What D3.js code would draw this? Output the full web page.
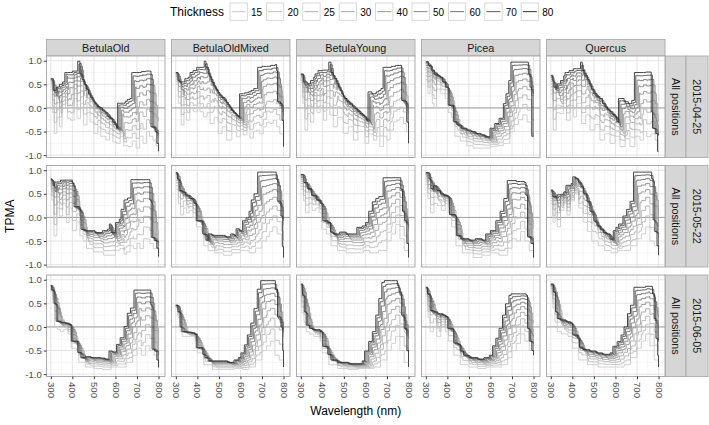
<!DOCTYPE html>
<html><head><meta charset="utf-8">
<script src="https://cdn.jsdelivr.net/npm/d3@7"></script>
<style>body{margin:0;background:#fff}svg{display:block;font-family:"Liberation Sans",Arial,Helvetica,sans-serif}</style>
</head><body><svg id="c" width="709" height="425"></svg>
<script>
const species = ["BetulaOld","BetulaOldMixed","BetulaYoung","Picea","Quercus"];
const dates = ["2015-04-25","2015-05-22","2015-06-05"];
const positionLabel = "All positions";
const thickness = [15,20,25,30,40,50,60,70,80];
const thicknessShiftNm = [48,42,36,30,24,18,12,6,0];
const thicknessDepth = [1,.8,.62,.46,.32,.21,.12,.05,0];
const xTicks = [300,400,500,600,700,800];
const yTicks = [-1,-0.5,0,0.5,1];

// thickness 80 (darkest) step curves: [wavelength nm, TPMA]
const dark0425 = [
 [[300,.62],[312,.37],[325,.44],[340,.5],[355,.55],[365,.75],[400,.78],[425,.99],[435,.72],[445,.6],[455,.5],[465,.4],[475,.3],[485,.22],[495,.15],[505,.09],[515,.03],[528,0],[540,-.05],[552,-.1],[565,-.18],[575,-.22],[588,-.3],[598,-.36],[605,-.43],[610,.1],[645,.14],[655,.18],[668,.2],[676,.75],[720,.77],[740,.78],[765,-.4],[784,-.5],[792,-.75],[800,-.92]],
 [[300,.75],[310,.58],[319,.55],[342,.62],[358,.65],[366,.75],[380,.79],[397,.86],[432,.99],[440,.86],[450,.72],[459,.65],[467,.55],[474,.48],[482,.42],[490,.37],[497,.32],[505,.27],[515,.22],[528,.16],[536,.11],[544,.06],[552,0],[559,-.05],[567,-.09],[575,-.12],[583,-.16],[590,-.19],[596,.3],[620,.32],[637,.34],[650,.37],[662,.41],[680,.86],[700,.88],[740,.9],[762,.92],[768,.79],[772,.13],[786,.09],[793,-.26],[800,-.82]],
 [[300,.72],[312,.55],[330,.51],[345,.58],[360,.65],[366,.72],[380,.79],[400,.8],[430,.97],[440,.75],[450,.68],[459,.62],[467,.52],[475,.44],[482,.37],[490,.3],[498,.24],[505,.2],[515,.14],[528,.09],[540,.04],[552,-.01],[563,-.06],[575,-.12],[588,-.16],[598,-.19],[605,-.26],[612,.34],[630,.3],[650,.34],[662,.37],[672,.41],[682,.86],[720,.88],[740,.9],[768,.16],[785,.13],[792,-.3],[800,-.75]],
 [[300,.98],[312,.9],[325,.8],[340,.72],[355,.68],[366,.65],[378,.55],[392,.44],[404,.06],[428,-.29],[445,-.36],[465,-.43],[490,-.47],[510,-.5],[530,-.54],[555,-.57],[575,-.61],[598,-.43],[620,-.33],[640,-.22],[660,.09],[672,.3],[685,.58],[695,.97],[776,.72],[784,.44],[792,-.6],[800,-.6]],
 [[300,.69],[309,.58],[315,.44],[330,.51],[345,.58],[360,.68],[366,.75],[385,.79],[405,.83],[438,.97],[446,.79],[458,.69],[470,.6],[478,.51],[490,.4],[500,.3],[515,.24],[528,.2],[540,.1],[552,.02],[563,-.03],[575,-.08],[588,-.14],[598,-.19],[606,-.29],[614,.2],[640,.13],[660,.09],[676,.16],[688,.75],[740,.76],[766,-.08],[772,-.43],[785,-.54],[795,-.92],[800,-.92]]
];
const dark0522 = [
 [[300,.82],[304,.79],[311,.68],[319,.75],[345,.79],[400,.72],[408,.23],[432,.17],[440,-.25],[458,-.28],[505,-.32],[540,-.28],[563,-.25],[572,-.14],[580,-.32],[600,-.11],[618,-.04],[626,.17],[640,.37],[656,.41],[672,.8],[752,.8],[760,.37],[766,-.42],[780,-.49],[792,-.65],[800,-.83]],
 [[300,.95],[308,.81],[316,.57],[330,.54],[345,.47],[365,.4],[385,.3],[395,-.07],[425,-.35],[440,-.48],[450,-.35],[468,-.38],[500,-.38],[530,-.41],[555,-.35],[570,-.38],[580,-.24],[595,-.28],[610,-.07],[626,-.01],[640,.13],[650,.37],[663,.5],[680,.96],[758,.96],[766,.81],[774,.33],[788,.03],[796,-.62],[800,-.85]],
 [[300,.91],[315,.74],[330,.61],[350,.47],[372,.37],[390,.3],[402,-.07],[425,-.11],[438,-.31],[450,-.35],[480,-.31],[510,-.35],[560,-.21],[585,-.18],[600,-.11],[615,.13],[632,.33],[648,.4],[662,.44],[682,.84],[756,.84],[764,.6],[772,.13],[782,-.07],[792,-.55],[800,-.85]],
 [[300,.95],[316,.81],[324,.61],[336,.67],[352,.57],[368,.5],[384,.47],[400,.44],[410,.06],[437,.03],[442,-.38],[460,-.45],[500,-.48],[530,-.45],[560,-.48],[578,-.35],[600,-.28],[625,-.07],[645,.13],[662,.4],[678,.78],[720,.76],[758,.74],[765,.47],[772,-.41],[788,-.55],[800,-.85]],
 [[300,.58],[310,.44],[330,.48],[345,.49],[360,.54],[370,.68],[395,.72],[402,.86],[415,.82],[428,.75],[440,.65],[452,.51],[468,.34],[482,.13],[500,-.08],[515,-.18],[530,-.25],[545,-.32],[560,-.35],[575,-.46],[590,-.28],[602,-.21],[615,-.14],[635,.03],[652,.17],[668,.34],[684,.96],[768,.82],[775,-.05],[783,-.3],[793,-.6],[800,-.8]]
];
const dark0605 = [
 [[300,.88],[304,.78],[315,.5],[325,.12],[345,.1],[366,.08],[385,.05],[395,-.3],[425,-.54],[440,-.65],[460,-.63],[485,-.65],[530,-.66],[550,-.68],[570,-.51],[585,-.53],[605,-.37],[622,-.23],[640,.01],[655,.29],[670,.4],[686,.78],[764,.47],[770,-.47],[782,-.51],[792,-.7],[800,-.86]],
 [[300,.46],[310,.32],[320,0],[328,-.1],[350,-.11],[372,-.13],[388,-.16],[395,-.44],[425,-.58],[435,-.65],[450,-.72],[500,-.72],[540,-.75],[570,-.7],[590,-.65],[602,-.55],[618,-.38],[632,-.17],[648,.08],[663,.39],[678,.8],[694,.98],[762,.8],[772,.21],[788,0],[796,-.5],[800,-.85]],
 [[300,.91],[308,.67],[316,.32],[325,.04],[340,-.03],[355,-.06],[390,-.1],[402,-.41],[425,-.58],[440,-.7],[470,-.75],[520,-.78],[565,-.78],[585,-.72],[596,-.51],[615,-.31],[632,-.1],[648,.25],[662,.6],[676,.94],[688,.98],[748,.88],[756,.74],[768,.25],[780,-.03],[792,-.5],[800,-.85]],
 [[300,.84],[308,.7],[320,.35],[338,.32],[355,.28],[378,.25],[392,.22],[402,-.03],[425,-.06],[430,-.34],[450,-.37],[460,-.51],[475,-.6],[500,-.65],[540,-.68],[570,-.65],[595,-.6],[610,-.4],[625,-.24],[640,-.03],[656,.25],[670,.49],[686,.67],[696,.7],[766,.67],[772,-.03],[780,-.3],[792,-.5],[800,-.6]],
 [[300,.91],[312,.74],[322,.32],[330,.18],[345,.15],[370,.11],[392,.08],[402,-.17],[425,-.24],[433,-.44],[450,-.48],[480,-.51],[510,-.55],[540,-.58],[575,-.55],[588,-.41],[608,-.31],[626,-.17],[640,0],[656,.28],[670,.46],[686,.84],[740,.86],[772,.7],[780,.18],[788,-.24],[796,-.6],[800,-.85]]
];
// thickness 15 (lightest) step curves
const light0425 = [
 [[300,.4],[308,-.1],[316,-.54],[328,-.2],[340,-.4],[352,0],[368,.1],[378,-.22],[392,-.26],[408,.2],[422,-.22],[438,.1],[452,-.36],[468,-.1],[482,-.3],[500,-.54],[518,-.4],[532,-.6],[555,-.68],[572,-.55],[588,-.72],[604,-.75],[622,-.6],[638,-.8],[658,-.82],[678,-.7],[696,-.85],[712,-.6],[728,-.75],[744,-.5],[758,-.6],[774,-.68],[788,-.8],[800,-.92]],
 [[300,.5],[312,.1],[325,-.36],[338,-.1],[350,-.26],[365,0],[381,-.08],[400,.1],[412,-.08],[428,-.19],[445,-.1],[459,-.33],[478,-.2],[497,-.54],[515,-.4],[536,-.68],[560,-.5],[582,-.61],[600,-.45],[613,-.57],[630,-.4],[644,-.64],[660,-.5],[675,-.47],[690,-.55],[706,-.4],[722,-.3],[737,-.33],[752,-.26],[768,-.4],[783,-.55],[800,-.82]],
 [[300,.5],[310,.1],[319,-.47],[332,-.12],[345,-.3],[360,.1],[375,-.1],[390,.05],[405,-.26],[420,.1],[435,-.15],[451,-.4],[470,-.2],[497,-.54],[520,-.4],[544,-.68],[565,-.5],[598,-.75],[615,-.55],[637,-.68],[652,-.6],[667,-.82],[684,-.6],[699,-.68],[714,-.47],[730,-.3],[745,-.26],[760,-.2],[776,-.33],[790,-.5],[800,-.75]],
 [[300,.6],[310,.3],[320,.5],[330,.1],[338,0],[350,.4],[370,.3],[390,.2],[405,-.1],[420,-.2],[435,-.6],[460,-.7],[490,-.8],[520,-.85],[560,-.85],[600,-.82],[630,-.8],[660,-.75],[690,-.5],[710,-.35],[730,-.25],[750,-.15],[770,-.3],[790,-.55],[800,-.6]],
 [[300,.3],[311,-.47],[325,-.1],[342,-.12],[358,.1],[373,-.26],[390,.05],[404,-.19],[420,.1],[443,-.33],[462,-.15],[482,-.47],[505,-.35],[528,-.68],[550,-.55],[575,-.75],[598,-.6],[621,-.82],[645,-.65],[667,-.82],[690,-.6],[714,-.68],[730,-.5],[745,-.61],[765,-.55],[784,-.68],[800,-.92]]
];
const light0522 = [
 [[300,.6],[305,.37],[315,-.39],[328,.2],[340,.03],[355,.3],[372,-.11],[385,.2],[400,-.28],[420,-.1],[435,-.39],[450,-.5],[466,-.66],[497,-.73],[544,-.8],[575,-.8],[600,-.7],[621,-.66],[640,-.78],[652,-.73],[668,-.6],[683,-.66],[700,-.55],[714,-.66],[730,-.45],[745,-.46],[760,-.55],[776,-.66],[800,-.83]],
 [[300,.6],[312,.3],[322,.05],[335,.2],[350,.1],[362,.15],[380,0],[395,-.2],[420,-.3],[430,-.6],[450,-.7],[480,-.75],[520,-.8],[560,-.75],[600,-.7],[640,-.75],[670,-.65],[700,-.5],[720,-.4],[735,-.3],[750,-.2],[770,-.35],[790,-.6],[800,-.85]],
 [[300,.6],[312,.35],[322,.1],[338,.3],[352,.15],[370,.2],[385,.1],[398,-.25],[420,-.35],[440,-.6],[470,-.7],[510,-.75],[550,-.75],[590,-.7],[620,-.75],[660,-.7],[700,-.5],[720,-.35],[740,-.15],[760,-.45],[780,-.7],[800,-.85]],
 [[300,.7],[310,.4],[322,.1],[338,.3],[355,.25],[372,.15],[390,.3],[405,.1],[420,-.2],[440,-.6],[470,-.75],[520,-.85],[560,-.8],[600,-.75],[640,-.8],[680,-.65],[700,-.45],[720,-.5],[740,-.3],[760,-.5],[780,-.7],[800,-.85]],
 [[300,.3],[310,-.1],[320,.1],[330,-.2],[345,.15],[360,.3],[375,.05],[390,.35],[410,.5],[430,.2],[450,-.1],[470,-.3],[490,-.5],[520,-.6],[550,-.7],[580,-.75],[610,-.7],[640,-.7],[670,-.6],[700,-.45],[720,-.35],[740,-.2],[760,-.5],[780,-.6],[800,-.8]]
];
const light0605 = [
 [[300,.75],[310,.5],[318,0],[330,-.05],[345,-.1],[360,-.05],[380,-.15],[395,-.45],[420,-.5],[430,-.75],[460,-.85],[500,-.88],[540,-.9],[580,-.85],[620,-.85],[650,-.75],[680,-.6],[700,-.45],[720,-.6],[740,-.4],[760,-.5],[780,-.6],[800,-.86]],
 [[300,.4],[310,.2],[320,-.1],[330,-.2],[360,-.2],[390,-.3],[400,-.55],[430,-.8],[470,-.9],[520,-.9],[570,-.88],[610,-.9],[640,-.85],[670,-.7],[700,-.5],[720,-.4],[740,-.3],[760,-.6],[780,-.7],[800,-.85]],
 [[300,.6],[305,.3],[315,.1],[325,-.1],[340,-.15],[360,-.2],[390,-.3],[400,-.55],[430,-.8],[470,-.88],[520,-.9],[570,-.88],[610,-.88],[640,-.85],[670,-.7],[700,-.5],[720,-.35],[740,-.2],[760,-.5],[780,-.75],[800,-.85]],
 [[300,.65],[310,.2],[320,-.1],[335,0],[350,-.2],[370,.05],[390,-.1],[405,-.3],[430,-.6],[460,-.8],[500,-.85],[540,-.88],[580,-.85],[620,-.85],[650,-.8],[680,-.65],[700,-.5],[720,-.35],[740,-.15],[760,-.3],[780,-.5],[800,-.6]],
 [[300,.7],[310,.4],[320,.1],[330,-.1],[350,-.15],[380,-.2],[400,-.45],[430,-.7],[470,-.8],[520,-.85],[570,-.85],[610,-.85],[640,-.8],[670,-.65],[700,-.45],[720,-.3],[740,-.15],[760,-.4],[780,-.7],[800,-.85]]
];
const darkByDate = [dark0425, dark0522, dark0605];
const lightByDate = [light0425, light0522, light0605];

// ---------- layout ----------
const panelLeft0 = 46.5, panelW = 118.5, panelStepX = 125;
const rowTops = [56, 165.5, 275], panelH = 101.5;
const stripTop = 39.5, stripH = 16.5;
const svg = d3.select("#c");
const x = d3.scaleLinear().domain([280, 830]).range([0, panelW]);
const y = d3.scaleLinear().domain([-1.05, 1.1]).range([panelH, 0]);

const gamma = 2.2, gStart = 0.8, gEnd = 0.2;
const greyRange = thickness.map((t, i) => {
  const g = Math.pow(Math.pow(gStart, gamma) + (i / (thickness.length - 1)) * (Math.pow(gEnd, gamma) - Math.pow(gStart, gamma)), 1 / gamma);
  const c = Math.round(g * 255);
  return d3.rgb(c, c, c).formatHex();
});
const colour = d3.scaleOrdinal().domain(thickness).range(greyRange);

function stepAt(curve, l) {
  let v = curve[0][1];
  for (const p of curve) { if (p[0] <= l + 1e-9) v = p[1]; else break; }
  return v;
}
function buildSeries(dark, light, k) {
  const s = thicknessShiftNm[k], d = thicknessDepth[k];
  const xs = new Set([300, 800]);
  dark.forEach(p => { const v = p[0] + s; if (v > 300 && v < 800) xs.add(v); });
  light.forEach(p => { if (p[0] > 300 && p[0] < 800) xs.add(p[0]); });
  return Array.from(xs).sort((a, b) => a - b).map(l => [l, (1 - d) * stepAt(dark, l - s) + d * stepAt(light, l)]);
}
const line = d3.line().x(d => x(d[0])).y(d => y(d[1])).curve(d3.curveStepAfter);
const fmtY = d => d.toFixed(1);
const borderCol = "#a3a3a3", stripFill = "#d6d6d6";

// legend
const leg = svg.append("g").attr("class", "legend");
leg.append("text").attr("x", 170).attr("y", 16).attr("font-size", 12).attr("fill", "#000").text("Thickness");
thickness.forEach((t, i) => {
  const kx = 230 + i * 36.4;
  leg.append("rect").attr("x", kx).attr("y", 3).attr("width", 17.3).attr("height", 17.3)
    .attr("fill", "#fff").attr("stroke", "#cfcfcf").attr("stroke-width", 0.8);
  leg.append("line").attr("x1", kx + 1.7).attr("x2", kx + 15.6).attr("y1", 11.65).attr("y2", 11.65)
    .attr("stroke", colour(t)).attr("stroke-width", 1);
  leg.append("text").attr("x", kx + 21).attr("y", 15.5).attr("font-size", 10).attr("fill", "#000").text(t);
});

// strips (top)
species.forEach((sp, c) => {
  const px = panelLeft0 + c * panelStepX;
  svg.append("rect").attr("x", px).attr("y", stripTop).attr("width", panelW).attr("height", stripH)
    .attr("fill", stripFill).attr("stroke", borderCol).attr("stroke-width", 0.8);
  svg.append("text").attr("x", px + panelW / 2).attr("y", stripTop + stripH / 2).attr("dy", "0.35em")
    .attr("text-anchor", "middle").attr("font-size", 10.8).attr("fill", "#1a1a1a").text(sp);
});

// panels
dates.forEach((dt, r) => {
  const py = rowTops[r];
  const sx1 = panelLeft0 + 4 * panelStepX + panelW;
  [[sx1, 21, positionLabel], [sx1 + 21, 22, dt]].forEach(([sx, sw, label]) => {
    svg.append("rect").attr("x", sx).attr("y", py).attr("width", sw).attr("height", panelH)
      .attr("fill", stripFill).attr("stroke", borderCol).attr("stroke-width", 0.8);
    svg.append("text").attr("transform", `translate(${sx + sw / 2},${py + panelH / 2}) rotate(90)`)
      .attr("dy", "0.35em").attr("text-anchor", "middle").attr("font-size", 10.8).attr("fill", "#1a1a1a").text(label);
  });
  species.forEach((sp, c) => {
    const px = panelLeft0 + c * panelStepX;
    const g = svg.append("g").attr("transform", `translate(${px},${py})`);
    g.append("rect").attr("width", panelW).attr("height", panelH).attr("fill", "#fff");
    const xMinor = [350, 450, 550, 650, 750], yMinor = [-0.75, -0.25, 0.25, 0.75];
    g.selectAll(".xm").data(xMinor).enter().append("line").attr("x1", d => x(d)).attr("x2", d => x(d))
      .attr("y1", 0).attr("y2", panelH).attr("stroke", "#f0f0f0").attr("stroke-width", 0.6);
    g.selectAll(".ym").data(yMinor).enter().append("line").attr("y1", d => y(d)).attr("y2", d => y(d))
      .attr("x1", 0).attr("x2", panelW).attr("stroke", "#f0f0f0").attr("stroke-width", 0.6);
    g.selectAll(".xM").data(xTicks).enter().append("line").attr("x1", d => x(d)).attr("x2", d => x(d))
      .attr("y1", 0).attr("y2", panelH).attr("stroke", "#e4e4e4").attr("stroke-width", 1);
    g.selectAll(".yM").data(yTicks).enter().append("line").attr("y1", d => y(d)).attr("y2", d => y(d))
      .attr("x1", 0).attr("x2", panelW).attr("stroke", "#e4e4e4").attr("stroke-width", 1);
    g.append("line").attr("x1", 0).attr("x2", panelW).attr("y1", y(0)).attr("y2", y(0))
      .attr("stroke", "#9a9a9a").attr("stroke-width", 0.9);
    const dark = darkByDate[r][c], light = lightByDate[r][c];
    thickness.forEach((t, k) => {
      g.append("path").datum(buildSeries(dark, light, k)).attr("d", line)
        .attr("fill", "none").attr("stroke", colour(t)).attr("stroke-width", 0.9);
    });
    g.append("rect").attr("width", panelW).attr("height", panelH).attr("fill", "none")
      .attr("stroke", borderCol).attr("stroke-width", 0.9);
    if (c === 0) {
      const ay = g.append("g").call(d3.axisLeft(y).tickValues(yTicks).tickSize(2.7).tickPadding(2).tickFormat(fmtY));
      ay.select(".domain").remove();
      ay.selectAll("line").attr("stroke", "#333");
      ay.selectAll("text").attr("font-size", 9.6).attr("fill", "#4d4d4d").attr("font-family", "Liberation Sans, Arial, sans-serif");
    }
    if (r === dates.length - 1) {
      const ax = g.append("g").attr("transform", `translate(0,${panelH})`)
        .call(d3.axisBottom(x).tickValues(xTicks).tickSize(2.7).tickFormat(d => d));
      ax.select(".domain").remove();
      ax.selectAll("line").attr("stroke", "#333");
      ax.selectAll("text").attr("transform", "rotate(90)").attr("x", 5.5).attr("y", 0).attr("dy", "0.35em")
        .style("text-anchor", "start").attr("font-size", 9.6).attr("fill", "#4d4d4d")
        .attr("font-family", "Liberation Sans, Arial, sans-serif");
    }
  });
});

const plotMid = panelLeft0 + (4 * panelStepX + panelW) / 2;
svg.append("text").attr("x", plotMid).attr("y", 415).attr("text-anchor", "middle")
  .attr("font-size", 12).attr("fill", "#000").text("Wavelength (nm)");
svg.append("text").attr("transform", `translate(14,${(rowTops[0] + rowTops[2] + panelH) / 2}) rotate(-90)`)
  .attr("text-anchor", "middle").attr("font-size", 12).attr("fill", "#000").text("TPMA");
</script></body></html>
